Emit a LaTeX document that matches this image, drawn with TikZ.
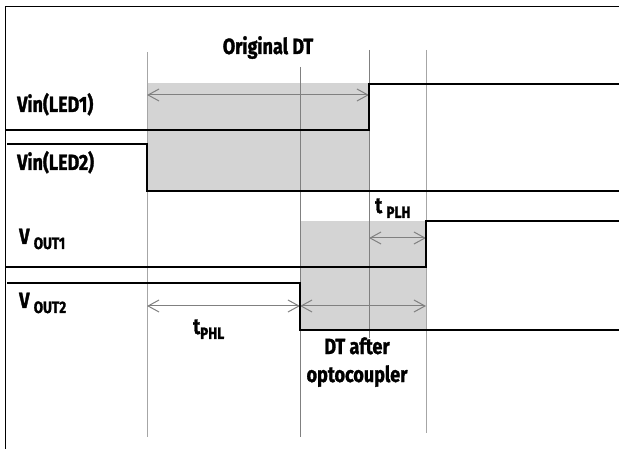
\documentclass[tikz,border=0pt]{standalone}
\usepackage{fontspec}
\setmainfont{Fira Sans}[FakeStretch=0.82, BoldFeatures={FakeBold=1.4}]
\usetikzlibrary{arrows.meta}
\tikzset{
    signal/.style = {draw=black, line width=1.4pt},
    guide/.style = {draw=black!35, line width=0.8pt},
    shade/.style = {fill=black!17},
    span/.style = {draw=black!50, line width=1pt, {Straight Barb[length=11pt,width=12pt]}-{Straight Barb[length=11pt,width=12pt]}},
    sigtext/.style = {font=\fontsize{22}{28}\selectfont\bfseries, inner sep=0pt, anchor=base west},
}
\newcommand{\lowsub}[1]{\raisebox{-5pt}{\fontsize{16.5}{16}\selectfont #1}}
\begin{document}
\begin{tikzpicture}[x=1pt, y=-1pt]
\useasboundingbox (0,0) rectangle (619,449);
% frame
\draw[line width=0.8pt] (5,449) -- (5,6) -- (619,6);
% dead time areas
\fill[shade] (147,83) rectangle (369,191);
\fill[shade] (300,221) rectangle (426,330);
% time marks
\draw[guide] (147,52) -- (147,437);
\draw[guide, draw=black!50] (300,67) -- (300,437);
\draw[guide, draw=black!50] (369,50) -- (369,338);
\draw[guide] (426,50) -- (426,433);
% span ends
\coordinate (dtA) at (147,95);
\coordinate (dtB) at (369,95);
\coordinate (plhA) at (369,238);
\coordinate (plhB) at (426,238);
\coordinate (phlA) at (147,306);
\coordinate (phlB) at (300,306);
\coordinate (optB) at (426,306);
\draw[span] (dtA) -- (dtB);
\draw[span] (plhA) -- (plhB);
\draw[span] (phlA) -- (phlB);
\draw[span] (phlB) -- (optB);
% waveforms
\draw[signal] (5,130) -- (369,130) -- (369,84) -- (619,84);
\draw[signal] (7,144) -- (147,144) -- (147,191) -- (619,191);
\draw[signal] (5,267) -- (426,267) -- (426,221) -- (619,221);
\draw[signal] (7,283) -- (300,283) -- (300,330) -- (619,330);
% texts
\node[sigtext, anchor=base] (origdt) at (268,54) {Original DT};
\node[sigtext] (led1) at (17,112) {Vin(LED1)};
\node[sigtext] (led2) at (17,170) {Vin(LED2)};
\node[sigtext] (vout1) at (19,244) {V \lowsub{OUT1}};
\node[sigtext] (vout2) at (19,308) {V \lowsub{OUT2}};
\node[sigtext] (tphl) at (193,334) {t\lowsub{PHL}};
\node[sigtext] (tplh) at (375,213) {t \lowsub{PLH}};
\node[sigtext, anchor=base, align=center] (dtopt) at (357,382) {DT after\\optocoupler};
\end{tikzpicture}
\end{document}
